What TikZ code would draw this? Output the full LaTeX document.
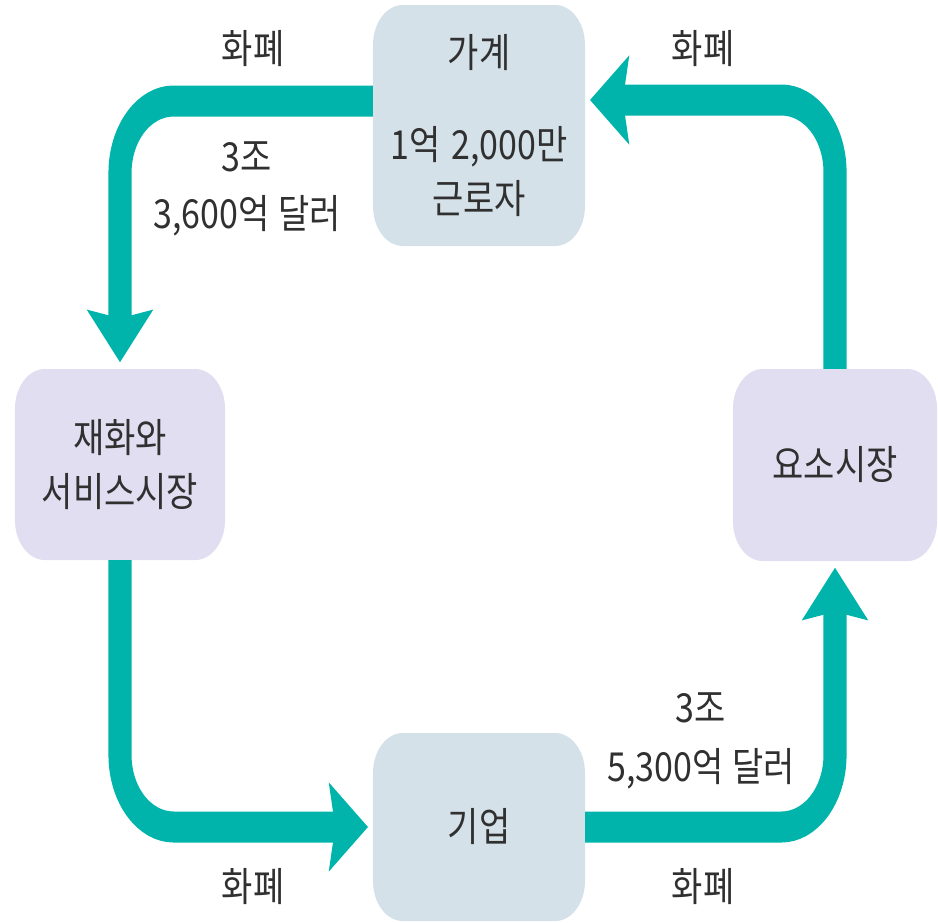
\documentclass[tikz,border=0pt]{standalone}
\usepackage{fontspec}
\setmainfont[FakeStretch=1.14]{Noto Sans CJK KR}
\usetikzlibrary{arrows.meta}
\definecolor{flowteal}{RGB}{0,180,172}
\definecolor{boxblue}{RGB}{213,225,233}
\definecolor{boxlilac}{RGB}{224,222,240}
\definecolor{textgray}{RGB}{48,48,48}

\tikzset{
  sector/.style={rounded corners=40pt, inner sep=0pt, align=center, text=textgray},
  flow/.style={line width=31pt, color=flowteal, rounded corners=72pt,
    -{Stealth[length=52pt, width=87pt, inset=8pt]}, shorten >=6.5pt},
  amount/.style={text=textgray, align=center}
}

\begin{document}
\begin{tikzpicture}
  \useasboundingbox (0,0) rectangle (938pt,-922pt);
  \begin{scope}[transform canvas={xscale=0.745}, x=1.3423pt, y=-1pt,
      font=\fontsize{40}{54}\selectfont]

    % draws the sectors and markets
    \node[sector, fill=boxblue, minimum width=284.6pt, minimum height=241pt]
      (household) at (479,125.5) {가계\\[38pt]1억\hspace{0.35em}2,000만\\근로자};
    \node[sector, fill=boxlilac, minimum width=282pt, minimum height=191pt]
      (goods) at (120,464.5) {재화와\\서비스시장};
    \node[sector, fill=boxlilac, minimum width=274pt, minimum height=192pt]
      (factor) at (835,465) {요소시장};
    \node[sector, fill=boxblue, minimum width=284.6pt, minimum height=188pt]
      (firm) at (479,827) {기업};

    % draws the money flows
    \draw[flow] ([yshift=24.5pt]household.west) -| (goods.north);
    \draw[flow] (goods.south) |- (firm.west);
    \draw[flow] (firm.east) -| (factor.south);
    \draw[flow] (factor.north) |- ([yshift=25.5pt]household.east);

    % labels on the flows
    \foreach \x/\y [count = \i] in {253/49, 703/49, 253/887, 703/887}
      \node[amount] (money\i) at (\x,\y) {화폐};
    \node[amount, font=\fontsize{40}{57}\selectfont] (spending) at (247,189)
      {3조\\3,600억\hspace{0.3em}달러};
    \node[amount, font=\fontsize{40}{59}\selectfont] (income) at (701,740.5)
      {3조\\5,300억\hspace{0.3em}달러};
  \end{scope}
\end{tikzpicture}
\end{document}
